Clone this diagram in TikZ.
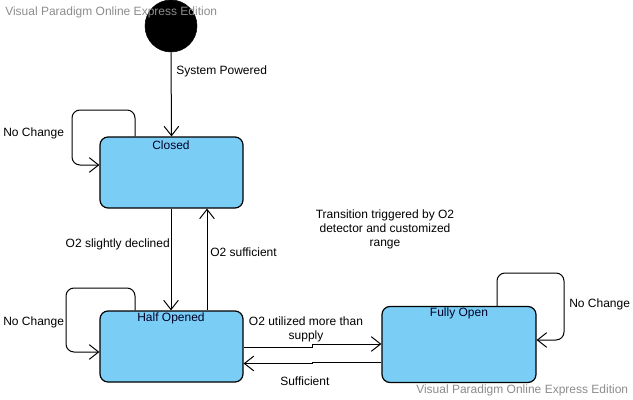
\documentclass[tikz,border=0pt]{standalone}
\usepackage{fontspec}
\setmainfont{Liberation Sans}
\usetikzlibrary{arrows.meta}
\definecolor{stfill}{RGB}{122,206,245}
\definecolor{wmgrey}{RGB}{140,140,140}
\begin{document}
\begin{tikzpicture}[x=0.75pt,y=-0.75pt,
  every node/.style={font=\fontsize{9}{10.5}\selectfont, inner sep=0pt},
  statebox/.style={draw=black, line width=0.9pt, fill=stfill, rounded corners=6pt, minimum width=107.25pt, minimum height=53.25pt},
  stlabel/.style={font=\fontsize{9}{10.5}\selectfont, text=black!85!blue},
  trans/.style={draw=black, line width=0.75pt, -{Straight Barb[length=7pt,width=11pt,line width=0.75pt]}},
  loopline/.style={trans, rounded corners=6pt},
  lbl/.style={text=black},
  wm/.style={text=wmgrey}]
\useasboundingbox (0,0) rectangle (633,400);
% initial state
\node[circle, fill=black, draw=black, minimum size=39pt] (init) at (171,26) {};
% states
\node[statebox] (closed) at (171.5,172.5) {};
\node[stlabel] (closedl) at (171,145) {Closed};
\node[statebox] (half) at (171.5,346.5) {};
\node[stlabel] (halfl) at (171,318) {Half Opened};
\node[statebox, minimum width=115.5pt, minimum height=57pt] (full) at (459,344.5) {};
\node[stlabel] (fulll) at (459,313) {Fully Open};
% coordinates
\coordinate (c1) at (135,110);
\coordinate (c2) at (72,110);
\coordinate (c3) at (72,165);
\coordinate (h1) at (135,288);
\coordinate (h2) at (66,288);
\coordinate (h3) at (66,352);
\coordinate (f1) at (497,273);
\coordinate (f2) at (564,273);
\coordinate (f3) at (564,340);
\coordinate (j1) at (312,347);
\coordinate (j2) at (312,344);
\coordinate (k1) at (312,362);
\coordinate (k2) at (312,363.5);
% transitions
\draw[trans] (init.south) -- (closed.north);
\draw[loopline] (closed.north -| c1) -- (c1) -- (c2) -- (c3) -- (closed.west |- c3);
\draw[trans] ([xshift=-0.375pt]closed.south) -- ([xshift=-0.375pt]half.north);
\draw[trans] (half.north -| 207,0) -- (closed.south -| 207,0);
\draw[loopline] (half.north -| h1) -- (h1) -- (h2) -- (h3) -- (half.west |- h3);
\draw[loopline] (full.north -| f1) -- (f1) -- (f2) -- (f3) -- (full.east |- f3);
\draw[trans] (half.east |- j1) -- (j1) -- (j2) -- (full.west |- j2);
\draw[trans] (full.west |- k1) -- (k1) -- (k2) -- (half.east |- k2);
% labels
\node[lbl, anchor=west] (lsp) at (176,71) {System Powered};
\node[lbl, anchor=west] (lnc1) at (3,133) {No Change};
\node[lbl, anchor=west] (lnc2) at (3,322) {No Change};
\node[lbl, anchor=west] (lnc3) at (569,304) {No Change};
\node[lbl, anchor=east] (lsd) at (170,244) {O2 slightly declined};
\node[lbl, anchor=west] (lsuf) at (210,252) {O2 sufficient};
\node[lbl, align=center] (lum) at (306,329) {O2 utilized more than\\supply};
\node[lbl, anchor=west] (lsuf2) at (280,381) {Sufficient};
\node[lbl, align=center] (lnote) at (385,229) {Transition triggered by O2\\detector and customized\\range};
% watermarks (drawn on top)
\node[wm, anchor=west] (wm1) at (5,12) {Visual Paradigm Online Express Edition};
\node[wm, anchor=west] (wm2) at (416,390) {Visual Paradigm Online Express Edition};
\end{tikzpicture}
\end{document}
